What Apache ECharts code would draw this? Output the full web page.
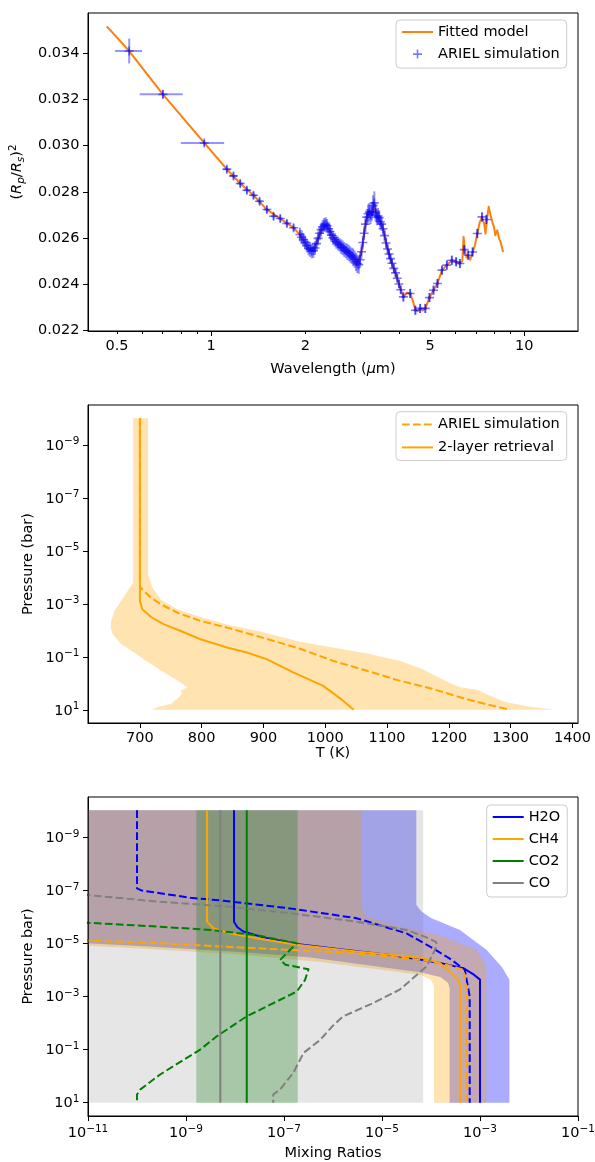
<!DOCTYPE html>
<html>
<head>
<meta charset="utf-8">
<script src="https://cdn.jsdelivr.net/npm/echarts@6/dist/echarts.min.js"></script>
<style>
  html, body { margin: 0; padding: 0; background: #ffffff; }
  #chart { width: 595px; height: 1162px; }
</style>
</head>
<body>
<div id="chart"></div>
<script>
// ---------------- Transmission spectrum ----------------
const modelWl = [0.464, 0.547, 0.701, 0.950, 1.122, 1.238, 1.365, 1.506, 1.662, 1.833, 1.93, 1.99, 2.05, 2.11, 2.18, 2.25, 2.32, 2.40, 2.48, 2.56, 2.64, 2.73, 2.82, 2.92, 2.96, 3.01, 3.06, 3.11, 3.16, 3.21, 3.27, 3.32, 3.38, 3.49, 3.55, 3.61, 3.73, 3.86, 4.00, 4.11, 4.22, 4.32, 4.40, 4.49, 4.57, 4.65, 4.74, 4.83, 4.98, 5.13, 5.28, 5.46, 5.66, 5.87, 6.06, 6.23, 6.34, 6.40, 6.46, 6.54, 6.62, 6.72, 6.84, 6.95, 7.08, 7.20, 7.33, 7.45, 7.52, 7.60, 7.70, 7.80, 7.93, 8.00, 8.08, 8.20, 8.30, 8.40, 8.56];
const modelDepth = [0.03518, 0.03411, 0.03223, 0.03012, 0.02898, 0.02836, 0.02785, 0.02723, 0.02684, 0.02644, 0.02610, 0.02580, 0.02553, 0.02543, 0.02585, 0.02634, 0.02656, 0.02628, 0.02594, 0.02572, 0.02556, 0.02538, 0.02520, 0.02492, 0.02484, 0.02530, 0.02590, 0.02660, 0.02700, 0.02715, 0.02700, 0.02752, 0.02690, 0.02665, 0.02635, 0.02585, 0.02515, 0.02455, 0.02390, 0.02344, 0.02362, 0.02359, 0.02330, 0.02286, 0.02282, 0.02294, 0.02285, 0.02294, 0.02341, 0.02373, 0.02402, 0.02460, 0.02482, 0.02503, 0.02496, 0.02489, 0.02500, 0.02605, 0.02549, 0.02515, 0.02525, 0.02505, 0.02539, 0.02565, 0.02619, 0.02665, 0.02691, 0.02660, 0.02619, 0.02680, 0.02735, 0.02700, 0.02663, 0.02650, 0.02612, 0.02633, 0.02600, 0.02583, 0.02539];

const obsWl = [0.547, 0.701, 0.950,
  1.122, 1.178, 1.238, 1.300, 1.365, 1.427, 1.506, 1.582, 1.662, 1.745, 1.833,
  1.92, 1.945, 1.97, 1.995, 2.02, 2.045, 2.07, 2.095, 2.12, 2.145, 2.17, 2.195, 2.22, 2.245, 2.27, 2.295, 2.32, 2.345, 2.37, 2.395,
  2.42, 2.45, 2.48, 2.51, 2.54, 2.57, 2.60, 2.63, 2.66, 2.69, 2.72, 2.75, 2.78, 2.81, 2.84, 2.87, 2.90, 2.93, 2.96, 2.99,
  3.02, 3.05, 3.08, 3.11, 3.14, 3.17, 3.20, 3.23, 3.26, 3.29, 3.32, 3.35, 3.38, 3.41, 3.44, 3.47, 3.50, 3.54, 3.58, 3.62,
  3.66, 3.70, 3.74, 3.78, 3.83, 3.88, 3.93, 3.98, 4.03,
  4.11, 4.32, 4.49, 4.65, 4.83, 4.98, 5.13, 5.28, 5.46, 5.66, 5.87, 6.06, 6.23, 6.43, 6.62, 6.84, 7.08, 7.33, 7.57];
const obsDepth = [0.03411, 0.03223, 0.03012,
  0.02898, 0.02869, 0.02836, 0.02807, 0.02785, 0.02759, 0.02723, 0.02694, 0.02684, 0.02663, 0.02644,
  0.02615, 0.02603, 0.02592, 0.02580, 0.02567, 0.02556, 0.02550, 0.02543, 0.02545, 0.02556, 0.02575, 0.02598, 0.02620, 0.02636, 0.02648, 0.02656, 0.02660, 0.02652, 0.02640, 0.02628,
  0.02612, 0.02600, 0.02592, 0.02583, 0.02576, 0.02570, 0.02562, 0.02557, 0.02550, 0.02545, 0.02540, 0.02535, 0.02528, 0.02522, 0.02516, 0.02508, 0.02496, 0.02488, 0.02484, 0.02505,
  0.02540, 0.02580, 0.02620, 0.02660, 0.02690, 0.02705, 0.02712, 0.02700, 0.02715, 0.02740, 0.02752, 0.02710, 0.02690, 0.02695, 0.02688, 0.02670, 0.02660, 0.02640, 0.02610, 0.02578,
  0.02552, 0.02530, 0.02510, 0.02490, 0.02468, 0.02448, 0.02425, 0.02400, 0.02375,
  0.02344, 0.02359, 0.02286, 0.02294, 0.02294, 0.02341, 0.02373, 0.02402, 0.02460, 0.02482, 0.02503, 0.02496, 0.02489, 0.02549, 0.02525, 0.02539, 0.02619, 0.02691, 0.02680];
const obsWlErr = [0.054, 0.11, 0.15,
  0.03, 0.03, 0.03, 0.03, 0.03, 0.03, 0.03, 0.03, 0.03, 0.03, 0.03,
  0.015, 0.015, 0.015, 0.015, 0.015, 0.015, 0.015, 0.015, 0.015, 0.015, 0.015, 0.015, 0.015, 0.015, 0.015, 0.015, 0.015, 0.015, 0.015, 0.015,
  0.015, 0.015, 0.015, 0.015, 0.015, 0.015, 0.015, 0.015, 0.015, 0.015, 0.015, 0.015, 0.015, 0.015, 0.015, 0.015, 0.015, 0.015, 0.015, 0.015,
  0.015, 0.015, 0.015, 0.015, 0.015, 0.015, 0.015, 0.015, 0.015, 0.015, 0.015, 0.015, 0.015, 0.015, 0.015, 0.015, 0.015, 0.02, 0.02, 0.02,
  0.02, 0.02, 0.02, 0.02, 0.025, 0.025, 0.025, 0.025, 0.025,
  0.06, 0.06, 0.06, 0.06, 0.06, 0.06, 0.06, 0.06, 0.06, 0.06, 0.06, 0.06, 0.06, 0.06, 0.06, 0.06, 0.06, 0.06, 0.06];
const obsDepthErr = [0.00054, 0.00018, 0.00013,
  0.00015, 0.00015, 0.00015, 0.00015, 0.00015, 0.00015, 0.00015, 0.00015, 0.00015, 0.00015, 0.00015,
  0.0003, 0.0003, 0.0003, 0.0003, 0.0003, 0.00032, 0.00032, 0.00032, 0.00032, 0.0003, 0.0003, 0.0003, 0.0003, 0.0003, 0.0003, 0.0003, 0.0003, 0.0003, 0.0003, 0.0003,
  0.0003, 0.0003, 0.0003, 0.0003, 0.0003, 0.0003, 0.00032, 0.00032, 0.00032, 0.00032, 0.00035, 0.00035, 0.00035, 0.00035, 0.00038, 0.00038, 0.0004, 0.0004, 0.0004, 0.00035,
  0.00032, 0.0003, 0.0003, 0.00035, 0.00035, 0.0004, 0.0004, 0.0004, 0.0004, 0.00045, 0.0005, 0.0004, 0.00035, 0.00035, 0.00032, 0.0003, 0.0003, 0.00028, 0.00028, 0.00025,
  0.00025, 0.00022, 0.00022, 0.0002, 0.0002, 0.0002, 0.00018, 0.00018, 0.00018,
  0.0002, 0.0002, 0.0002, 0.0002, 0.0002, 0.0002, 0.0002, 0.0002, 0.0002, 0.0002, 0.0002, 0.0002, 0.0002, 0.0002, 0.0002, 0.0002, 0.0002, 0.0002, 0.0002];

const wlTickLabels = [0.5, 1, 2, 5, 10];
const wlMajorTicks = [1, 10];
const wlMinorTicks = [0.5, 0.6, 0.7, 0.8, 0.9, 2, 3, 4, 5, 6, 7, 8, 9];
const depthTicks = [0.022, 0.024, 0.026, 0.028, 0.030, 0.032, 0.034];

// ---------------- Temperature-pressure profile (pressure as log10 bar) ----------------
const retT = [700, 700, 704, 718, 739, 766, 798, 841, 873, 905, 948, 996, 1023, 1046];
const retLogP = [-10, -3.1, -2.79, -2.5, -2.22, -1.97, -1.66, -1.35, -1.16, -0.91, -0.41, 0.09, 0.55, 1];
const inputT = [700, 700, 704, 718, 734, 761, 798, 841, 894, 958, 1012, 1066, 1120, 1173, 1227, 1259, 1299];
const inputLogP = [-10, -3.66, -3.54, -3.23, -2.98, -2.66, -2.35, -2.1, -1.75, -1.31, -0.85, -0.48, -0.1, 0.21, 0.59, 0.78, 1.0];
const bandLeftT = [689, 689, 680, 669.5, 658.7, 653.4, 652.4, 656, 669.5, 701.6, 733.8, 760.6, 776.7, 765.9, 768, 763.2, 749.8, 728.5, 718.8];
const bandLeftLogP = [-10, -3.79, -3.48, -3.1, -2.72, -2.35, -2.1, -1.85, -1.48, -0.98, -0.48, -0.1, 0.15, 0.28, 0.38, 0.53, 0.78, 0.9, 1.0];
const bandRightT = [713.3, 713.3, 720.4, 733.8, 760.6, 798, 841, 894.5, 958.8, 1012, 1066, 1120, 1157, 1184, 1205, 1219, 1248, 1259, 1291, 1334, 1372];
const bandRightLogP = [-10, -4.1, -3.6, -3.16, -2.79, -2.5, -2.22, -1.95, -1.57, -1.35, -1.13, -0.85, -0.54, -0.22, 0.03, 0.15, 0.25, 0.4, 0.71, 0.9, 1.0];
const tempTicks = [700, 800, 900, 1000, 1100, 1200, 1300, 1400];
const pressureTicks = [1e-9, 1e-7, 1e-5, 1e-3, 1e-1, 10];

// ---------------- Mixing ratio profiles (log10 mixing ratio, log10 bar) ----------------
const h2oRetLogX = [-8.02, -8.02, -7.95, -7.83, -7.42, -6.74, -5.86, -4.84, -4.16, -3.8, -3.34, -3.15, -3.0, -3.0];
const h2oRetLogP = [-10, -5.81, -5.6, -5.44, -5.22, -4.97, -4.77, -4.56, -4.37, -4.25, -4.06, -3.85, -3.63, 1];
const ch4RetLogX = [-8.57, -8.57, -8.44, -8.1, -7.56, -6.74, -5.52, -4.16, -3.82, -3.62, -3.45, -3.40, -3.40];
const ch4RetLogP = [-10, -5.81, -5.56, -5.37, -5.19, -4.94, -4.69, -4.44, -4.25, -3.94, -3.63, -3.38, 1];
const co2RetLogX = [-7.76, -7.76];
const co2RetLogP = [-10, 1];
const coRetLogX = [-8.30, -8.30];
const coRetLogP = [-10, 1];

const h2oInLogX = [-10, -10, -9.9, -8.91, -8.24, -6.88, -5.52, -4.5, -3.96, -3.6, -3.31, -3.21, -3.21];
const h2oInLogP = [-10, -7.06, -6.98, -6.71, -6.6, -6.31, -5.94, -5.37, -4.81, -4.4, -4.0, -3.0, 1];
const ch4InLogX = [-12, -11, -9.5, -8.24, -6.88, -5.52, -4.16, -3.6, -3.34, -3.27, -3.27];
const ch4InLogP = [-5.2, -5.1, -5.0, -4.87, -4.75, -4.62, -4.37, -4.15, -4.0, -3.25, 1];
const co2InLogX = [-12, -11, -9.53, -8.5, -7.56, -6.74, -7.08, -6.97, -6.5, -6.57, -6.74, -7.76, -8.37, -8.71, -9.53, -9.93, -10.0, -10.0];
const co2InLogP = [-5.9, -5.77, -5.62, -5.5, -5.3, -5.0, -4.37, -4.19, -4.02, -3.62, -3.18, -2.25, -1.5, -1.0, -0.06, 0.5, 0.69, 1.0];
const coInLogX = [-12, -11, -9.53, -8.17, -6.88, -5.52, -4.5, -4.09, -3.9, -3.88, -3.95, -4.09, -4.64, -5.18, -5.79, -6.0, -6.27, -6.6, -6.81, -7.08, -7.22, -7.22];
const coInLogP = [-6.95, -6.81, -6.56, -6.38, -6.13, -5.81, -5.5, -5.22, -5.05, -4.94, -4.63, -4.13, -3.25, -2.75, -2.25, -1.9, -1.35, -0.875, -0.125, 0.5, 0.69, 1.0];

// uncertainty envelopes (outline polygons)
const h2oBandLogX = [-13, -13, -12, -11, -9.5, -8, -6.5, -5.1, -4.2, -3.8, -3.65, -3.62, -3.62, -2.40, -2.40, -2.55, -2.87, -3.41, -4.0, -4.2, -4.30, -4.30];
const h2oBandLogP = [-10, -5.4, -5.15, -5.0, -4.85, -4.68, -4.47, -4.12, -3.9, -3.72, -3.5, -3.3, 1, 1, -3.63, -4.1, -4.75, -5.5, -5.95, -6.2, -6.45, -10];
const ch4BandLogX = [-13, -13, -12, -11, -9.5, -8, -6.3, -5.1, -4.2, -4.0, -3.94, -3.94, -2.87, -2.87, -3.07, -3.75, -4.77, -5.32, -5.42, -5.42];
const ch4BandLogP = [-10, -5.1, -5.0, -4.9, -4.75, -4.58, -4.3, -4.02, -3.8, -3.62, -3.4, 1, 1, -4.13, -4.75, -5.25, -5.69, -6.0, -6.38, -10];
const co2BandLogX = [-8.79, -8.79, -6.72, -6.72];
const co2BandLogP = [-10, 1, 1, -10];
const coBandLogX = [-13, -13, -4.16, -4.16];
const coBandLogP = [-10, 1, 1, -10];
const mixTicks = [1e-11, 1e-9, 1e-7, 1e-5, 1e-3, 1e-1];

// ---------------- helpers ----------------
const FONT = 'DejaVu Sans';
const BLACK = '#000000';
const FS = 14.5;
const DASH = [7.7, 3.3];
const C_BLUE = '#0000ff', C_ORANGE = '#ffa500', C_GREEN = '#008000', C_GREY = '#808080';

const logPairs = (lx, lp) => lx.map((v, i) => [Math.pow(10, v), Math.pow(10, lp[i])]);
const tpPairs = (t, lp) => t.map((v, i) => [v, Math.pow(10, lp[i])]);
const zip = (a, b) => a.map((v, i) => [v, b[i]]);

function supLabel(v) {
  const e = Math.round(Math.log10(v));
  return '{b|10}{s|' + (e < 0 ? '\u2212' + (-e) : String(e)) + '}';
}
const supRich = {
  b: { fontFamily: FONT, fontSize: FS, color: BLACK, lineHeight: 17, verticalAlign: 'bottom' },
  s: { fontFamily: FONT, fontSize: 10.5, color: BLACK, lineHeight: 11, verticalAlign: 'top' }
};
const txt = { fontFamily: FONT, fontSize: FS, color: BLACK };
const axisLine = { show: true, lineStyle: { color: BLACK, width: 1 } };
// legend entries for line series show only the line
const lineOnly = { color: 'rgba(0,0,0,0)', borderWidth: 0, opacity: 0 };

function lineSeries(name, xi, yi, data, color, dashed, z) {
  return {
    type: 'line', name, xAxisIndex: xi, yAxisIndex: yi, data,
    symbol: 'none', showSymbol: false, clip: true, z: z || 4,
    lineStyle: { color, width: 2, type: dashed ? DASH : 'solid', cap: 'butt', join: 'round' },
    itemStyle: { color }, emphasis: { disabled: true }
  };
}
function areaSeries(name, xi, yi, pts, fill, z) {
  return {
    type: 'custom', name, xAxisIndex: xi, yAxisIndex: yi, z: z || 1, silent: true,
    data: [pts[0]], encode: { x: 0, y: 1 },
    renderItem: (params, api) => {
      const cs = params.coordSys;
      return {
        type: 'polygon',
        shape: { points: pts.map(p => api.coord(p)) },
        style: { fill },
        clipPath: { type: 'rect', shape: { x: cs.x, y: cs.y, width: cs.width, height: cs.height } }
      };
    }
  };
}
function logYAxis(gridIndex, name, nameGap) {
  return {
    gridIndex, type: 'log', logBase: 10, inverse: true,
    min: Math.pow(10, -10.5), max: Math.pow(10, 1.5),
    axisLine, splitLine: { show: false }, minorTick: { show: false },
    axisTick: { show: true, length: 5, lineStyle: { color: BLACK }, customValues: pressureTicks },
    axisLabel: { customValues: pressureTicks, formatter: supLabel, rich: supRich, margin: 8.5, ...txt },
    name, nameLocation: 'middle', nameGap, nameMoveOverlap: false, nameTextStyle: { ...txt }
  };
}

const chart = echarts.init(document.getElementById('chart'), null, { renderer: 'canvas' });

const legendBase = {
  orient: 'vertical', selectedMode: false,
  borderColor: '#cccccc', borderWidth: 1, borderRadius: 4,
  backgroundColor: 'rgba(255,255,255,0.8)',
  itemWidth: 31, itemHeight: 9, itemTextGap: 11,
  textStyle: { ...txt }
};
const legendText = { 'ARIEL T-p input': 'ARIEL simulation' };

const option = {
  animation: false,
  backgroundColor: '#ffffff',
  grid: [
    { left: 88, top: 13, width: 490, height: 318, show: true, borderColor: BLACK, borderWidth: 1, backgroundColor: 'transparent', z: 10, outerBoundsMode: 'none' },
    { left: 88, top: 405, width: 490, height: 318, show: true, borderColor: BLACK, borderWidth: 1, backgroundColor: 'transparent', z: 10, outerBoundsMode: 'none' },
    { left: 88, top: 797, width: 490, height: 319, show: true, borderColor: BLACK, borderWidth: 1, backgroundColor: 'transparent', z: 10, outerBoundsMode: 'none' }
  ],
  legend: [
    { ...legendBase, left: 396, top: 20, padding: [4.5, 7, 6.5, 5], itemGap: 7.1,
      data: [{ name: 'Fitted model', itemStyle: lineOnly }, { name: 'ARIEL simulation' }] },
    { ...legendBase, left: 396, top: 411.7, padding: [5.3, 7, 5.5, 5], itemGap: 7.9,
      data: [{ name: 'ARIEL T-p input', itemStyle: lineOnly }, { name: '2-layer retrieval', itemStyle: lineOnly }],
      formatter: n => legendText[n] || n },
    { ...legendBase, left: 486.7, top: 805, padding: [4.5, 7, 6.5, 5], itemGap: 7,
      data: [{ name: 'H2O', itemStyle: lineOnly }, { name: 'CH4', itemStyle: lineOnly }, { name: 'CO2', itemStyle: lineOnly }, { name: 'CO', itemStyle: lineOnly }] }
  ],
  xAxis: [
    { gridIndex: 0, type: 'log', logBase: 10, min: 0.404, max: 14.85,
      axisLine, splitLine: { show: false }, minorTick: { show: false },
      axisTick: { show: true, length: 5, lineStyle: { color: BLACK }, customValues: wlMajorTicks },
      axisLabel: { customValues: wlTickLabels, formatter: v => String(+(+v).toPrecision(3)), margin: 8, ...txt },
      name: '{n|Wavelength (}{i|\u03bc}{n|m)}', nameLocation: 'middle', nameGap: 31, nameMoveOverlap: false,
      nameTextStyle: { ...txt, rich: { n: { ...txt }, i: { ...txt, fontStyle: 'italic' } } } },
    { gridIndex: 0, type: 'log', logBase: 10, min: 0.404, max: 14.85, position: 'bottom',
      axisLine: { show: false }, splitLine: { show: false }, minorTick: { show: false },
      axisTick: { show: true, length: 3, lineStyle: { color: BLACK }, customValues: wlMinorTicks },
      axisLabel: { show: false } },
    { gridIndex: 1, type: 'value', min: 616, max: 1409,
      axisLine, splitLine: { show: false },
      axisTick: { show: true, length: 5, lineStyle: { color: BLACK }, customValues: tempTicks },
      axisLabel: { customValues: tempTicks, formatter: v => String(Math.round(v)), margin: 8, ...txt },
      name: 'T (K)', nameLocation: 'middle', nameGap: 23, nameMoveOverlap: false, nameTextStyle: { ...txt } },
    { gridIndex: 2, type: 'log', logBase: 10, min: 1e-11, max: 1e-1,
      axisLine, splitLine: { show: false }, minorTick: { show: false },
      axisTick: { show: true, length: 5, lineStyle: { color: BLACK }, customValues: mixTicks },
      axisLabel: { customValues: mixTicks, formatter: supLabel, rich: supRich, margin: 8, ...txt },
      name: 'Mixing Ratios', nameLocation: 'middle', nameGap: 30, nameMoveOverlap: false, nameTextStyle: { ...txt } }
  ],
  yAxis: [
    { gridIndex: 0, type: 'value', min: 0.02196, max: 0.03576,
      axisLine, splitLine: { show: false },
      axisTick: { show: true, length: 5, lineStyle: { color: BLACK }, customValues: depthTicks },
      axisLabel: { customValues: depthTicks, formatter: v => (+v).toFixed(3), margin: 8.5, ...txt },
      name: '{n|(}{i|R}{sb|p}{n|/}{i|R}{sb|s}{n|)}{sp|2}', nameLocation: 'middle', nameGap: 61, nameMoveOverlap: false,
      nameTextStyle: { ...txt, rich: {
        n: { ...txt, lineHeight: 19, verticalAlign: 'middle' },
        i: { ...txt, fontStyle: 'italic', lineHeight: 19, verticalAlign: 'middle' },
        sb: { ...txt, fontSize: 10.5, fontStyle: 'italic', lineHeight: 11, verticalAlign: 'bottom' },
        sp: { ...txt, fontSize: 10.5, lineHeight: 11, verticalAlign: 'top' }
      } } },
    logYAxis(1, 'Pressure (bar)', 52),
    logYAxis(2, 'Pressure bar)', 52)
  ],
  series: [
    // spectrum
    lineSeries('Fitted model', 0, 0, zip(modelWl, modelDepth), '#ff7f0e', false, 2),
    {
      type: 'custom', name: 'ARIEL error bars', xAxisIndex: 0, yAxisIndex: 0, z: 3, silent: true,
      data: obsWl.map((w, i) => [w, obsDepth[i], obsWlErr[i], obsDepthErr[i]]),
      encode: { x: 0, y: 1 },
      renderItem: (params, api) => {
        const w = api.value(0), d = api.value(1), we = api.value(2), de = api.value(3);
        const l = api.coord([w - we, d]), r = api.coord([w + we, d]);
        const t = api.coord([w, d + de]), b = api.coord([w, d - de]);
        const st = { stroke: 'rgba(0,0,255,0.42)', lineWidth: 2 };
        return { type: 'group', children: [
          { type: 'line', shape: { x1: l[0], y1: l[1], x2: r[0], y2: r[1] }, style: st },
          { type: 'line', shape: { x1: t[0], y1: t[1], x2: b[0], y2: b[1] }, style: st }
        ] };
      }
    },
    {
      type: 'scatter', name: 'ARIEL simulation', xAxisIndex: 0, yAxisIndex: 0, z: 4,
      data: zip(obsWl, obsDepth),
      symbol: 'path://M0,4.1H10V5.9H0Z M4.1,0H5.9V10H4.1Z', symbolSize: 9,
      itemStyle: { color: 'rgba(0,0,255,0.65)' }, emphasis: { disabled: true }
    },

    // temperature profile
    areaSeries('T-p envelope', 2, 1, tpPairs(bandLeftT, bandLeftLogP).concat(tpPairs(bandRightT, bandRightLogP).reverse()), 'rgba(255,165,0,0.3)'),
    lineSeries('ARIEL T-p input', 2, 1, tpPairs(inputT, inputLogP), C_ORANGE, true),
    lineSeries('2-layer retrieval', 2, 1, tpPairs(retT, retLogP), C_ORANGE, false),

    // mixing ratios
    areaSeries('H2O envelope', 3, 2, logPairs(h2oBandLogX, h2oBandLogP), 'rgba(0,0,255,0.33)'),
    areaSeries('CH4 envelope', 3, 2, logPairs(ch4BandLogX, ch4BandLogP), 'rgba(255,165,0,0.3)'),
    areaSeries('CO2 envelope', 3, 2, logPairs(co2BandLogX, co2BandLogP), 'rgba(0,128,0,0.3)'),
    areaSeries('CO envelope', 3, 2, logPairs(coBandLogX, coBandLogP), 'rgba(128,128,128,0.2)'),
    lineSeries('H2O', 3, 2, logPairs(h2oRetLogX, h2oRetLogP), C_BLUE, false),
    lineSeries('H2O input', 3, 2, logPairs(h2oInLogX, h2oInLogP), C_BLUE, true),
    lineSeries('CH4', 3, 2, logPairs(ch4RetLogX, ch4RetLogP), C_ORANGE, false),
    lineSeries('CH4 input', 3, 2, logPairs(ch4InLogX, ch4InLogP), C_ORANGE, true),
    lineSeries('CO2', 3, 2, logPairs(co2RetLogX, co2RetLogP), C_GREEN, false),
    lineSeries('CO2 input', 3, 2, logPairs(co2InLogX, co2InLogP), C_GREEN, true),
    lineSeries('CO', 3, 2, logPairs(coRetLogX, coRetLogP), C_GREY, false),
    lineSeries('CO input', 3, 2, logPairs(coInLogX, coInLogP), C_GREY, true)
  ]
};
chart.setOption(option);
</script>
</body>
</html>
